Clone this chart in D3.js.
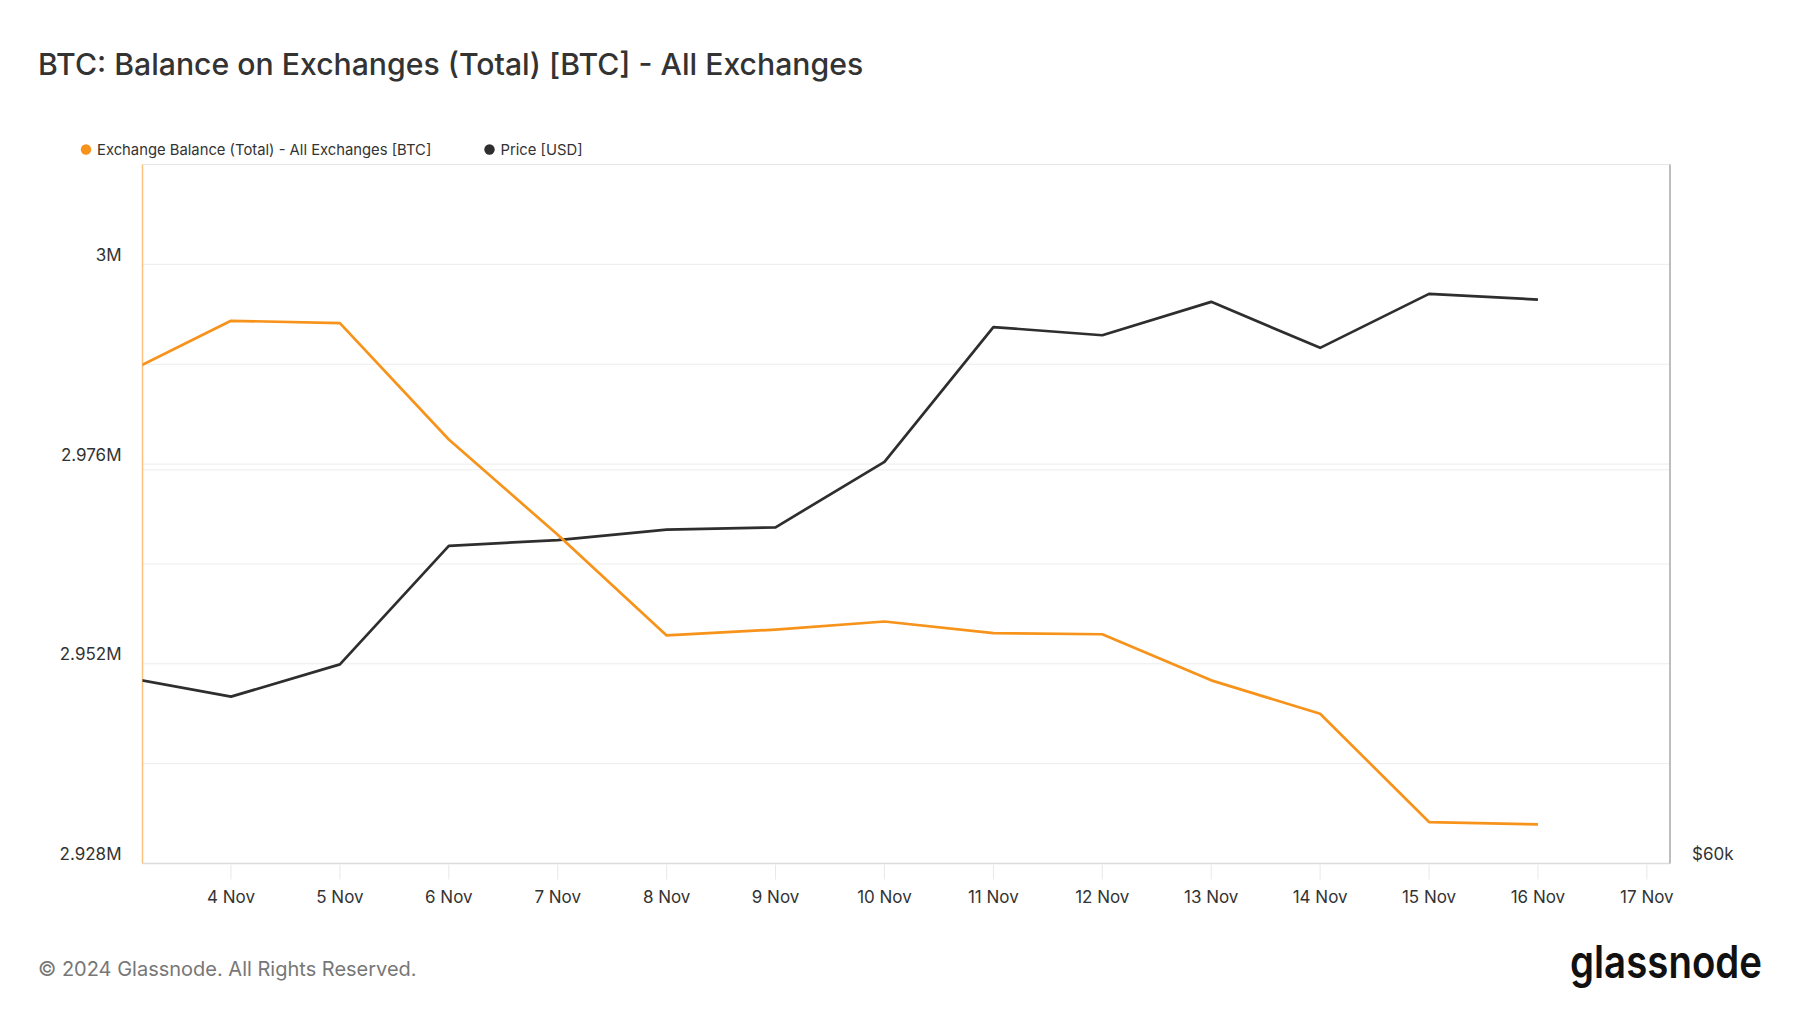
<!DOCTYPE html>
<html>
<head>
<meta charset="utf-8">
<script src="https://cdn.jsdelivr.net/npm/d3@7"></script>
<style>
  html, body { margin: 0; padding: 0; background: #fff; }
  svg { display: block; font-family: Inter, "Noto Sans", sans-serif; }
</style>
</head>
<body>
<svg id="chart" width="1800" height="1013"></svg>
<script>
const width = 1800;
const height = 1013;

// daily values
const dates = ["2024-11-03", "2024-11-04", "2024-11-05", "2024-11-06", "2024-11-07",
    "2024-11-08", "2024-11-09", "2024-11-10", "2024-11-11", "2024-11-12",
    "2024-11-13", "2024-11-14", "2024-11-15", "2024-11-16"];
const balance = [2986710, 2993220, 2992940, 2978950, 2967500, 2955410, 2956110,
    2957080, 2955690, 2955550, 2950010, 2946000, 2932980, 2932700];
const price = [68770, 67780, 69400, 75680, 76000, 76580, 76710,
    80470, 88800, 88270, 90450, 87460, 90980, 90600];

const leftTicks = [2928000, 2940000, 2952000, 2964000, 2976000, 2988000, 3000000];
const leftLabels = [2928000, 2952000, 2976000, 3000000];
const rightTicks = [60000, 80000];
const rightLabels = [60000];

const orange = "#f7931a";
const dark = "#2e2e2e";

const m = { left: 142.5, right: 1670, top: 164.5, bottom: 863.5 };

const svg = d3.select("#chart");

const parse = d3.utcParse("%Y-%m-%d");
const days = dates.map(parse);

const x = d3.scaleUtc()
    .domain([new Date(Date.UTC(2024, 10, 3, 4, 30)), new Date(Date.UTC(2024, 10, 17, 5, 6))])
    .range([m.left, m.right]);

const yL = d3.scaleLinear()
    .domain([2928000, 3012000])
    .range([m.bottom, m.top]);

const yR = d3.scaleLog()
    .domain([60000, 100000])
    .range([m.bottom, m.top]);

// title
svg.append("text")
    .attr("x", 38).attr("y", 75)
    .attr("font-size", 30.2)
    .attr("font-weight", 500)
    .attr("fill", "#333")
    .text("BTC: Balance on Exchanges (Total) [BTC] - All Exchanges");

// legend
const legend = [
    { label: "Exchange Balance (Total) - All Exchanges [BTC]", color: orange, x: 86 },
    { label: "Price [USD]", color: dark, x: 489.5 }
];
legend.forEach(l => {
    svg.append("circle").attr("cx", l.x).attr("cy", 149.5).attr("r", 5.2).attr("fill", l.color);
    svg.append("text")
        .attr("x", l.x + 11).attr("y", 155)
        .attr("font-size", 14.8)
        .attr("fill", "#333")
        .text(l.label);
});

// grid
const grid = svg.append("g");
grid.selectAll(".gl")
    .data(leftTicks)
    .enter().append("line")
    .attr("x1", m.left).attr("x2", m.right)
    .attr("y1", d => yL(d)).attr("y2", d => yL(d))
    .attr("stroke", "#ececec").attr("stroke-width", 1);
grid.selectAll(".gr")
    .data(rightTicks)
    .enter().append("line")
    .attr("x1", m.left).attr("x2", m.right)
    .attr("y1", d => yR(d)).attr("y2", d => yR(d))
    .attr("stroke", "#ececec").attr("stroke-width", 1);

// frame
svg.append("line").attr("x1", m.left).attr("x2", m.right).attr("y1", m.top).attr("y2", m.top)
    .attr("stroke", "#e6e6e6");
svg.append("line").attr("x1", m.left).attr("x2", m.right).attr("y1", m.bottom).attr("y2", m.bottom)
    .attr("stroke", "#dcdcdc").attr("stroke-width", 1.5);
svg.append("line").attr("x1", m.right).attr("x2", m.right).attr("y1", m.top).attr("y2", m.bottom)
    .attr("stroke", "#a8a8a8").attr("stroke-width", 1.5);
svg.append("line").attr("x1", m.left).attr("x2", m.left).attr("y1", m.top).attr("y2", m.bottom)
    .attr("stroke", "#fbc27c").attr("stroke-width", 1.5);

// x axis
const xTicks = d3.utcDay.range(new Date(Date.UTC(2024, 10, 4)), new Date(Date.UTC(2024, 10, 18)));
const xAxis = svg.append("g");
xAxis.selectAll("line")
    .data(xTicks)
    .enter().append("line")
    .attr("x1", d => x(d)).attr("x2", d => x(d))
    .attr("y1", m.bottom + 1).attr("y2", m.bottom + 16)
    .attr("stroke", "#e8e8e8");
xAxis.selectAll("text")
    .data(xTicks)
    .enter().append("text")
    .attr("x", d => x(d)).attr("y", 902.5)
    .attr("text-anchor", "middle")
    .attr("font-size", 17)
    .attr("fill", "#333")
    .text(d3.utcFormat("%-d %b"));

// left axis labels
const fmtM = d => (d / 1e6).toFixed(3).replace(/\.?0+$/, "") + "M";
svg.append("g").selectAll("text")
    .data(leftLabels)
    .enter().append("text")
    .attr("x", 121.5).attr("y", d => yL(d) - 3.5)
    .attr("text-anchor", "end")
    .attr("font-size", 17)
    .attr("fill", "#333")
    .text(fmtM);

// right axis labels
svg.append("g").selectAll("text")
    .data(rightLabels)
    .enter().append("text")
    .attr("x", 1692).attr("y", d => yR(d) - 4)
    .attr("font-size", 17)
    .attr("fill", "#333")
    .text(d => "$" + d / 1000 + "k");

// lines
svg.append("clipPath").attr("id", "clip")
    .append("rect")
    .attr("x", m.left).attr("y", m.top)
    .attr("width", m.right - m.left).attr("height", m.bottom - m.top);

const plot = svg.append("g").attr("clip-path", "url(#clip)");

const lineBal = d3.line().x((d, i) => x(days[i])).y(d => yL(d));
const linePrice = d3.line().x((d, i) => x(days[i])).y(d => yR(d));

plot.append("path")
    .attr("d", linePrice(price))
    .attr("fill", "none").attr("stroke", dark).attr("stroke-width", 2.7)
    .attr("stroke-linejoin", "round");

plot.append("path")
    .attr("d", lineBal(balance))
    .attr("fill", "none").attr("stroke", orange).attr("stroke-width", 2.7)
    .attr("stroke-linejoin", "round");

// footer
svg.append("text")
    .attr("x", 38).attr("y", 975.5)
    .attr("font-size", 20)
    .attr("fill", "#777")
    .text("© 2024 Glassnode. All Rights Reserved.");

svg.append("text")
    .attr("x", 1570).attr("y", 978)
    .attr("font-size", 45)
    .attr("font-weight", 600)
    .attr("textLength", 192)
    .attr("lengthAdjust", "spacingAndGlyphs")
    .attr("fill", "#111")
    .text("glassnode");
</script>
</body>
</html>
